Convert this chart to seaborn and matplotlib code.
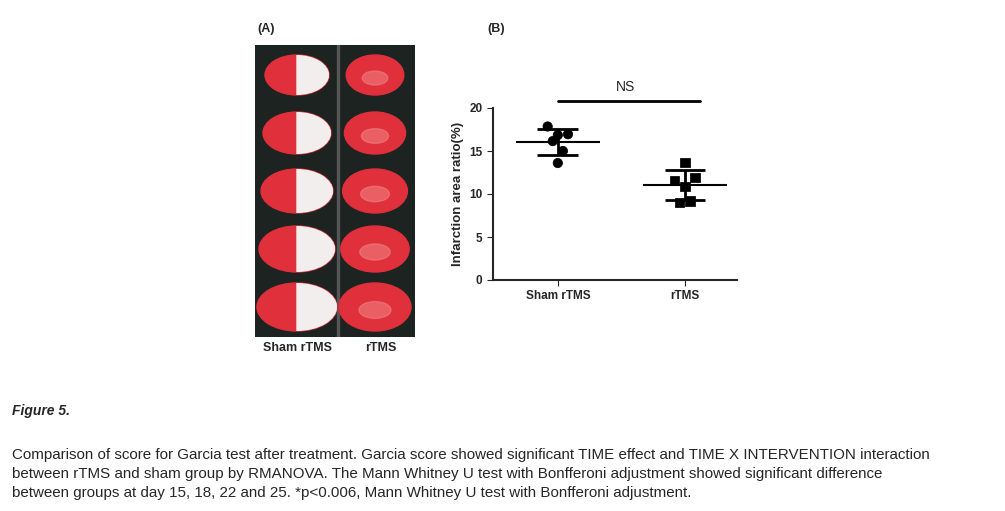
import numpy as np
import pandas as pd
import matplotlib
matplotlib.use("Agg")
import matplotlib.pyplot as plt
import seaborn as sns
from matplotlib.patches import Ellipse, Rectangle, Wedge

groups = ["Sham rTMS", "rTMS"]
sham_vals = [17.85, 16.85, 16.95, 16.15, 15.0, 13.6]
sham_offset = [-0.08, 0.0, 0.08, -0.04, 0.04, 0.0]
rtms_vals = [13.7, 11.6, 11.95, 10.85, 9.05, 9.2]
rtms_offset = [0.0, -0.08, 0.08, 0.0, -0.04, 0.04]
yticks = [0, 5, 10, 15, 20]

sns.set_style("white")
plt.rcParams["font.family"] = ["Liberation Sans", "DejaVu Sans"]

W, H = 1005, 511
fig = plt.figure(figsize=(W / 100, H / 100), dpi=100)

# Panel A: stylised brain slices
axA = fig.add_axes([255 / W, 1 - 337 / H, 160 / W, 292 / H])
axA.set_xlim(0, 160); axA.set_ylim(0, 292); axA.axis("off")
axA.add_patch(Rectangle((0, 0), 160, 292, color="#1c2320"))
axA.add_patch(Rectangle((82, 0), 2, 292, color="#555"))
for i in range(5):
    cy = 292 - 30 - i * 58
    w = 64 + i * 4
    h = 40 + i * 2
    e = Ellipse((42, cy), w, h, color="#e0303c")
    axA.add_patch(e)
    wd = Wedge((42, cy), w / 2, -90, 90, color="#f2eeee")
    axA.add_patch(wd)
    wd.set_clip_path(e)
    axA.add_patch(Ellipse((120, cy), w * 0.9, h, color="#e0303c"))
    axA.add_patch(Ellipse((120, cy - 3), w * 0.4, h * 0.35, color="#f08080", alpha=0.6))
fig.text(263 / W, 1 - 348 / H, "Sham rTMS", fontsize=9, fontweight="bold", va="center")
fig.text(365 / W, 1 - 348 / H, "rTMS", fontsize=9, fontweight="bold", va="center")
fig.text(257 / W, 1 - 29 / H, "(A)", fontsize=9, fontweight="bold", va="center")
fig.text(487 / W, 1 - 29 / H, "(B)", fontsize=9, fontweight="bold", va="center")

# Panel B
df = pd.DataFrame({
    "x": [0 + o for o in sham_offset] + [1 + o for o in rtms_offset],
    "val": sham_vals + rtms_vals,
    "group": [groups[0]] * len(sham_vals) + [groups[1]] * len(rtms_vals)})
axB = fig.add_axes([493 / W, 1 - 280 / H, 244 / W, 172 / H])
sns.scatterplot(data=df, x="x", y="val", style="group", markers={groups[0]: "o", groups[1]: "s"},
                color="black", s=45, edgecolor="black", ax=axB, legend=False, zorder=3)
for i, vals in enumerate([sham_vals, rtms_vals]):
    m, s = np.mean(vals), np.std(vals, ddof=1)
    axB.hlines(m, i - 0.33, i + 0.33, color="black", lw=1.5)
    axB.hlines([m - s, m + s], i - 0.16, i + 0.16, color="black", lw=2)
    axB.vlines(i, m - s, m + s, color="black", lw=2)
axB.set_ylim(0, 20)
axB.set_xlim(-0.51, 1.41)
axB.set_xticks([0, 1])
axB.set_xticklabels(groups)
axB.set_yticks(yticks)
axB.set_ylabel("Infarction area ratio(%)", fontsize=9.5, fontweight="bold")
axB.set_xlabel("")
axB.tick_params(axis="both", labelsize=8.5, length=4, direction="out", left=True, bottom=True)
for lab in axB.get_xticklabels() + axB.get_yticklabels():
    lab.set_fontweight("bold")
sns.despine(ax=axB)
for sp in axB.spines.values():
    sp.set_linewidth(1.5)
axB.plot([0.0, 1.12], [20.8, 20.8], color="black", lw=2, clip_on=False)
axB.text(0.53, 22.4, "NS", ha="center", va="center", fontsize=10)

# Caption
fig.text(12 / W, 1 - 411 / H, "Figure 5.", fontsize=10, style="italic", fontweight="bold", va="center")
cap = ["Comparison of score for Garcia test after treatment. Garcia score showed significant TIME effect and TIME X INTERVENTION interaction",
       "between rTMS and sham group by RMANOVA. The Mann Whitney U test with Bonfferoni adjustment showed significant difference",
       "between groups at day 15, 18, 22 and 25. *p<0.006, Mann Whitney U test with Bonfferoni adjustment."]
for i, line in enumerate(cap):
    fig.text(12 / W, 1 - (455 + 19 * i) / H, line, fontsize=10.9, va="center")

fig.savefig("out.png", dpi=100)
